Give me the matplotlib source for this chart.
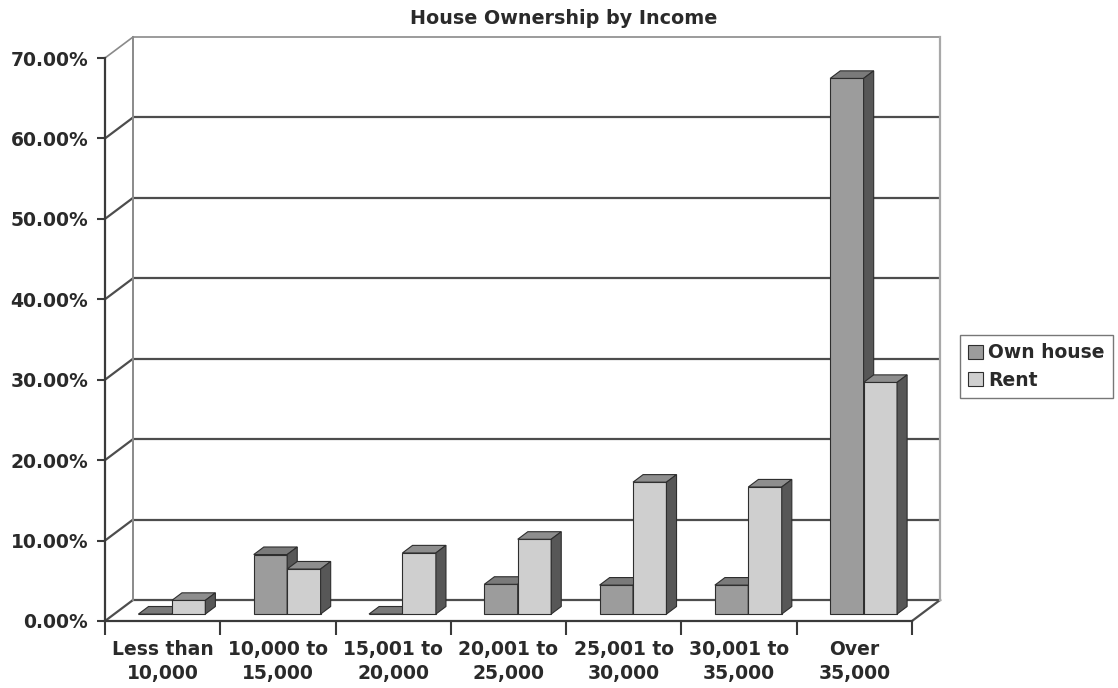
import matplotlib
matplotlib.use("Agg")
import matplotlib.pyplot as plt
from matplotlib.patches import Patch
from matplotlib.ticker import FuncFormatter, FixedLocator

# data (percent)
categories = ["Less than\n10,000", "10,000 to\n15,000", "15,001 to\n20,000",
              "20,001 to\n25,000", "25,001 to\n30,000", "30,001 to\n35,000",
              "Over\n35,000"]
own_house = [0.0, 7.4, 0.0, 3.7, 3.6, 3.6, 66.6]
rent = [1.7, 5.6, 7.6, 9.3, 16.4, 15.8, 28.8]
y_ticks = [0, 10, 20, 30, 40, 50, 60, 70]

plt.rcParams['font.family'] = ['DejaVu Sans']
plt.rcParams['font.weight'] = 'bold'
FS = 13.5

own_face, own_top = '#9c9c9c', '#7a7a7a'
rent_face, rent_top = '#cfcfcf', '#8e8e8e'
side_col = '#575757'
edge = '#2e2e2e'

W, H = 1118, 688
fig = plt.figure(figsize=(W / 100, H / 100), dpi=100)
ax = fig.add_axes([105 / W, 67 / H, 807 / W, 563 / H])
ax.set_xlim(0, len(categories))
ax.set_ylim(0, 70)
ax.patch.set_visible(False)

# pseudo 3D depth, expressed in data units
DX = 28 / (807 / len(categories))
DY = 21 / (563 / 70)
n = len(categories)

# back wall, side wall and floor
for y in y_ticks:
    col = '#8a8a8a' if y == 70 else '#4d4d4d'
    lw = 1.2 if y == 70 else 1.6
    if y > 0:
        ax.plot([DX, n + DX], [y + DY, y + DY], color=col, lw=lw,
                clip_on=False, zorder=1, solid_capstyle='butt')
    ax.plot([0, DX], [y, y + DY], color=col, lw=lw, clip_on=False, zorder=1)
ax.plot([DX, n + DX], [DY, DY], color='#4d4d4d', lw=1.6, clip_on=False, zorder=1)
ax.plot([n, n + DX], [0, DY], color='#4d4d4d', lw=1.6, clip_on=False, zorder=1)
ax.plot([DX, DX], [DY, 70 + DY], color='#8a8a8a', lw=1.4, clip_on=False, zorder=1)
ax.plot([n + DX, n + DX], [DY, 70 + DY], color='#a8a8a8', lw=1.6, clip_on=False, zorder=1)


def bar3d(x0, width, h, face, top, z):
    d0, d1 = 0.33, 0.69
    x1 = x0 + width
    ax.bar(x0 + d0 * DX, h, width, bottom=d0 * DY, align='edge', color=face,
           edgecolor=edge, linewidth=0.8, zorder=z, clip_on=False)
    ax.fill([x0 + d0 * DX, x1 + d0 * DX, x1 + d1 * DX, x0 + d1 * DX],
            [h + d0 * DY, h + d0 * DY, h + d1 * DY, h + d1 * DY],
            facecolor=top, edgecolor=edge, linewidth=0.8, zorder=z, clip_on=False)
    ax.fill([x1 + d0 * DX, x1 + d1 * DX, x1 + d1 * DX, x1 + d0 * DX],
            [d0 * DY, d1 * DY, h + d1 * DY, h + d0 * DY],
            facecolor=side_col, edgecolor=edge, linewidth=0.8, zorder=z, clip_on=False)


bw = 0.29
for i in range(n):
    bar3d(i + 0.5 - bw, bw, own_house[i], own_face, own_top, 3 + 2 * i)
    bar3d(i + 0.5, bw, rent[i], rent_face, rent_top, 4 + 2 * i)

# front axes
for s in ['top', 'right']:
    ax.spines[s].set_visible(False)
for s in ['left', 'bottom']:
    ax.spines[s].set_color('#3a3a3a')
    ax.spines[s].set_linewidth(1.6)
    ax.spines[s].set_zorder(2)

ax.set_yticks(y_ticks)
ax.yaxis.set_major_formatter(FuncFormatter(lambda v, p: f"{v:.2f}%"))
ax.tick_params(axis='y', length=6, width=1.5, color='#3a3a3a', pad=6,
               labelsize=FS, labelcolor='#2a2a2a')

ax.xaxis.set_major_locator(FixedLocator(range(n + 1)))
ax.xaxis.set_minor_locator(FixedLocator([i + 0.5 for i in range(n)]))
ax.set_xticklabels([''] * (n + 1))
ax.set_xticklabels(categories, minor=True, fontsize=FS, color='#2a2a2a',
                   linespacing=1.3)
ax.tick_params(axis='x', which='major', length=10, width=1.5, color='#3a3a3a')
ax.tick_params(axis='x', which='minor', length=0, pad=14)

fig.text(564 / W, 1 - 18 / H, "House Ownership by Income", ha='center',
         va='center', fontsize=13.8, color='#2a2a2a')

handles = [Patch(facecolor=own_face, edgecolor=edge, linewidth=0.8),
           Patch(facecolor=rent_face, edgecolor=edge, linewidth=0.8)]
leg = fig.legend(handles, ["Own house", "Rent"], loc='upper left',
                 bbox_to_anchor=(960 / W, 1 - 335 / H), frameon=True,
                 fancybox=False, edgecolor='#555555', handlelength=0.75,
                 handleheight=0.75, handletextpad=0.3, borderpad=0.45,
                 labelspacing=0.45, borderaxespad=0,
                 prop={'size': FS, 'weight': 'bold'})
leg.get_frame().set_linewidth(1.0)
for t in leg.get_texts():
    t.set_color('#2a2a2a')

fig.savefig("out.png", dpi=100)
